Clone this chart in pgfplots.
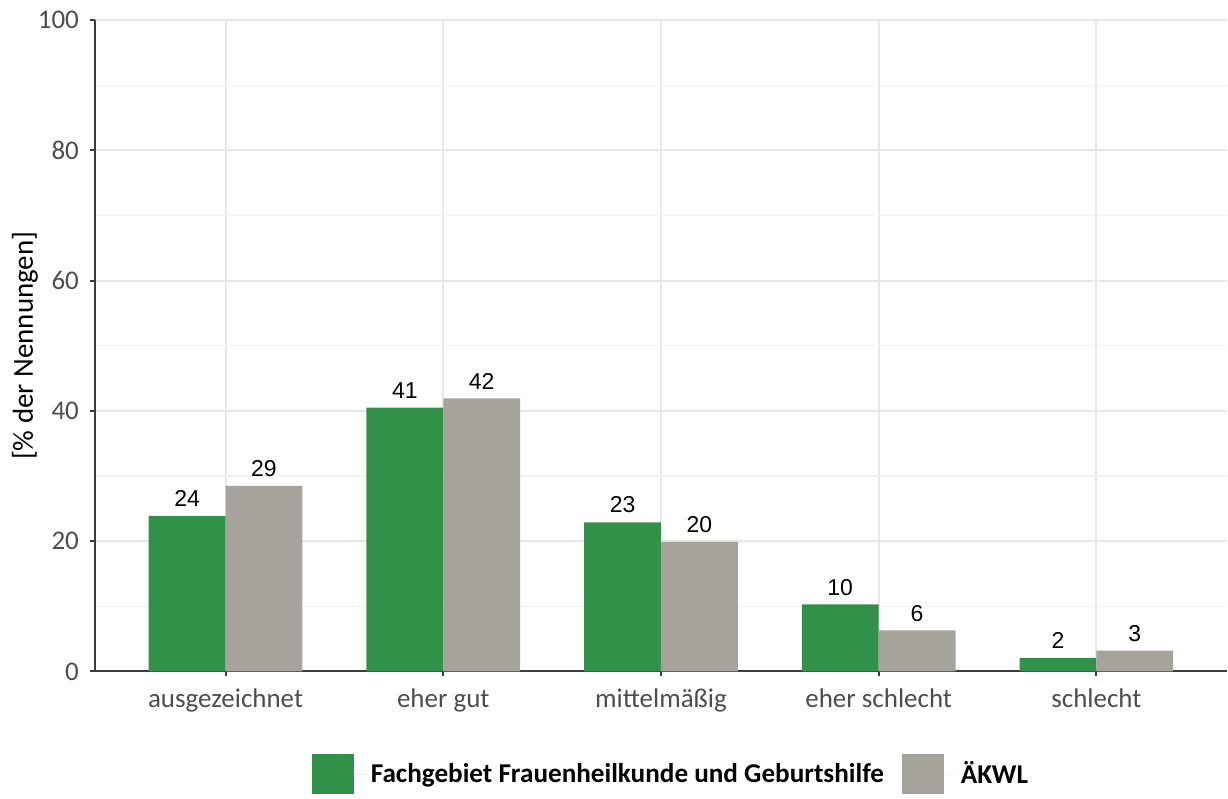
\documentclass[border=0pt]{standalone}
\usepackage{pgfplots}
\pgfplotsset{compat=1.18}
\usepackage{fontspec}
\setmainfont{Carlito}
\newfontfamily\arialfont{Liberation Sans}
\definecolor{fgreen}{RGB}{50,145,73}
\definecolor{akgrey}{RGB}{166,163,156}
\definecolor{tickgrey}{RGB}{77,77,77}
\definecolor{axisgrey}{RGB}{60,60,60}
\definecolor{gridmajor}{RGB}{232,232,232}
\definecolor{gridminor}{RGB}{242,242,242}
\begin{document}
\begin{tikzpicture}
\begin{axis}[
    scale only axis,
    width=566.5pt, height=326pt,
    xmin=-0.6, xmax=4.6,
    ymin=0, ymax=100,
    xtick={0,1,2,3,4},
    xticklabels={ausgezeichnet,eher gut,mittelmäßig,eher schlecht,schlecht},
    ytick={0,20,40,60,80,100},
    minor ytick={10,30,50,70,90},
    axis x line*=bottom, axis y line*=left,
    axis line style={axisgrey, line width=1pt, -},
    tick align=outside,
    major tick length=2.5pt,
    tick style={axisgrey, line width=1pt},
    minor tick length=0pt,
    xmajorgrids, ymajorgrids, yminorgrids,
    major grid style={gridmajor, line width=1pt},
    minor grid style={gridminor, line width=0.6pt},
    ticklabel style={font=\fontsize{13.5}{15}\selectfont, text=tickgrey},
    /pgf/number format/assume math mode=true,
    xticklabel style={yshift=-2.5pt},
    yticklabel style={xshift=-2pt},
    ylabel={[\% der Nennungen]},
    ylabel style={font=\fontsize{14.5}{16}\selectfont, at={(axis description cs:-0.0618,0.5)}, anchor=center, inner sep=0pt},
    ybar, bar width=0.353,
    nodes near coords,
    point meta=explicit symbolic,
    every node near coord/.append style={font=\arialfont\fontsize{11.5}{13}\selectfont, text=black, anchor=south, yshift=1pt},
    legend columns=2,
    legend style={draw=none, at={(0.5,-0.158)}, anchor=center, xshift=5.5pt,
        font=\bfseries\fontsize{13.6}{15}\selectfont,
        /tikz/every even column/.append style={column sep=7pt}},
    legend image code/.code={\fill[#1] (0pt,-10pt) rectangle (21pt,10pt); \path (21pt,0pt) -- (27.5pt,0pt);},
]
\addplot[fill=fgreen, draw=none, bar shift=-0.1765] coordinates {
    (0,23.9) [24]
    (1,40.5) [41]
    (2,22.9) [23]
    (3,10.3) [10]
    (4,2.1) [2]
};
\addlegendentry{Fachgebiet Frauenheilkunde und Geburtshilfe}
\addplot[fill=akgrey, draw=none, bar shift=0.1765] coordinates {
    (0,28.5) [29]
    (1,41.9) [42]
    (2,19.9) [20]
    (3,6.3) [6]
    (4,3.2) [3]
};
\addlegendentry{ÄKWL}
\end{axis}
\path ([xshift=-47.5pt,yshift=10pt]current axis.north west);
\end{tikzpicture}
\end{document}
